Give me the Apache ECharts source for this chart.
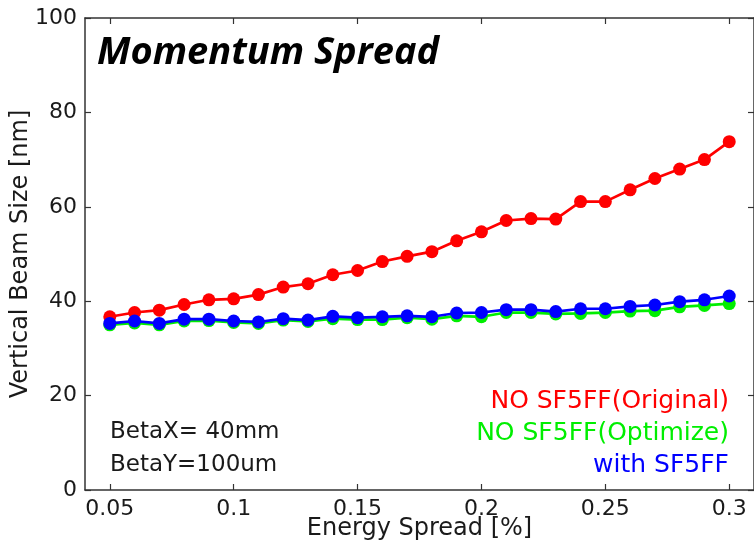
<!DOCTYPE html>
<html>
<head>
<meta charset="utf-8">
<script src="https://cdn.jsdelivr.net/npm/echarts@6/dist/echarts.min.js"></script>
<style>
  html, body { margin: 0; padding: 0; background: #fff; }
  #chart { width: 754px; height: 544px; }
</style>
</head>
<body>
<div id="chart"></div>
<script>
// Energy spread [%] sampled every 0.01 from 0.05 to 0.3
const energySpread = [0.05, 0.06, 0.07, 0.08, 0.09, 0.10, 0.11, 0.12, 0.13, 0.14, 0.15, 0.16, 0.17,
                      0.18, 0.19, 0.20, 0.21, 0.22, 0.23, 0.24, 0.25, 0.26, 0.27, 0.28, 0.29, 0.30];

// Vertical beam size [nm]
const noSf5ffOriginal = [36.7, 37.6, 38.1, 39.3, 40.3, 40.5, 41.4, 43.0, 43.7, 45.6, 46.5, 48.4, 49.5,
                         50.5, 52.8, 54.7, 57.1, 57.5, 57.4, 61.1, 61.1, 63.6, 66.0, 68.0, 70.0, 73.8];
const noSf5ffOptimize = [35.0, 35.4, 35.0, 35.8, 35.9, 35.5, 35.3, 36.0, 35.7, 36.3, 36.1, 36.1, 36.5,
                         36.2, 36.9, 36.7, 37.6, 37.6, 37.3, 37.4, 37.6, 37.9, 38.0, 38.8, 39.1, 39.5];
const withSf5ff       = [35.3, 35.8, 35.3, 36.2, 36.2, 35.8, 35.6, 36.3, 36.0, 36.8, 36.5, 36.7, 36.9,
                         36.7, 37.5, 37.6, 38.2, 38.2, 37.8, 38.4, 38.4, 38.9, 39.2, 39.9, 40.3, 41.1];

const seriesNames  = ['NO SF5FF(Original)', 'NO SF5FF(Optimize)', 'with SF5FF'];
const seriesColors = ['#ff0000', '#00ee00', '#0000ff'];
const seriesValues = [noSf5ffOriginal, noSf5ffOptimize, withSf5ff];

const xTicks = [0.05, 0.1, 0.15, 0.2, 0.25, 0.3];
const yTicks = [0, 20, 40, 60, 80, 100];

const beamNotes = ['BetaX= 40mm', 'BetaY=100um'];
const plotTitle = 'Momentum Spread';

const FONT = 'DejaVu Sans';
const AXIS_COLOR = '#333';

const grid = { left: 85, right: 0, top: 18, bottom: 54, outerBoundsMode: 'none', containLabel: false };

function frameAxis(pos, isX, showLabels) {
  const ticks = isX ? xTicks : yTicks;
  return {
    type: 'value',
    position: pos,
    min: isX ? 0.04 : 0,
    max: isX ? 0.31 : 100,
    axisLine: { show: true, onZero: false, lineStyle: { color: AXIS_COLOR, width: 1.5 } },
    axisTick: { show: true, inside: true, length: 6, customValues: ticks,
                lineStyle: { color: AXIS_COLOR, width: 1.2 } },
    axisLabel: showLabels ? {
      show: true, customValues: ticks, margin: 8,
      color: '#1a1a1a', fontFamily: FONT, fontSize: 22,
      formatter: v => String(+v.toFixed(2))
    } : { show: false },
    splitLine: { show: false }
  };
}

const xMain = Object.assign(frameAxis('bottom', true, true), {
  name: 'Energy Spread [%]', nameLocation: 'middle', nameGap: 27, nameMoveOverlap: false,
  nameTextStyle: { color: '#1a1a1a', fontFamily: FONT, fontSize: 24 }
});
const yMain = Object.assign(frameAxis('left', false, true), {
  name: 'Vertical Beam Size [nm]', nameLocation: 'middle', nameGap: 52, nameMoveOverlap: false,
  nameTextStyle: { color: '#1a1a1a', fontFamily: FONT, fontSize: 24 }
});

const series = seriesNames.map((name, i) => ({
  name: name,
  type: 'line',
  xAxisIndex: 0,
  yAxisIndex: 0,
  data: energySpread.map((x, k) => [x, seriesValues[i][k]]),
  symbol: 'circle',
  symbolSize: 13,
  showSymbol: true,
  lineStyle: { color: seriesColors[i], width: 2.7 },
  itemStyle: { color: seriesColors[i] },
  z: 2 + i,
  animation: false
}));

const legendCenters = [401, 433, 465];
const noteCenters = [432, 465];

const graphics = [
  {
    type: 'text', left: 97, top: 34,
    style: { text: plotTitle, fill: '#000', font: 'italic bold 38px "Open Sans"' }
  }
].concat(seriesNames.map((name, i) => ({
  type: 'text', x: 729, y: legendCenters[i],
  style: { text: name, fill: seriesColors[i], font: '25px "' + FONT + '"',
           textAlign: 'right', textVerticalAlign: 'middle' }
}))).concat(beamNotes.map((t, i) => ({
  type: 'text', x: 110, y: noteCenters[i],
  style: { text: t, fill: '#1a1a1a', font: '23px "' + FONT + '"',
           textAlign: 'left', textVerticalAlign: 'middle' }
})));

const chart = echarts.init(document.getElementById('chart'), null, { renderer: 'canvas' });
chart.setOption({
  animation: false,
  backgroundColor: '#fff',
  grid: grid,
  xAxis: [xMain, frameAxis('top', true, false)],
  yAxis: [yMain, frameAxis('right', false, false)],
  series: series,
  graphic: graphics
});
</script>
</body>
</html>
